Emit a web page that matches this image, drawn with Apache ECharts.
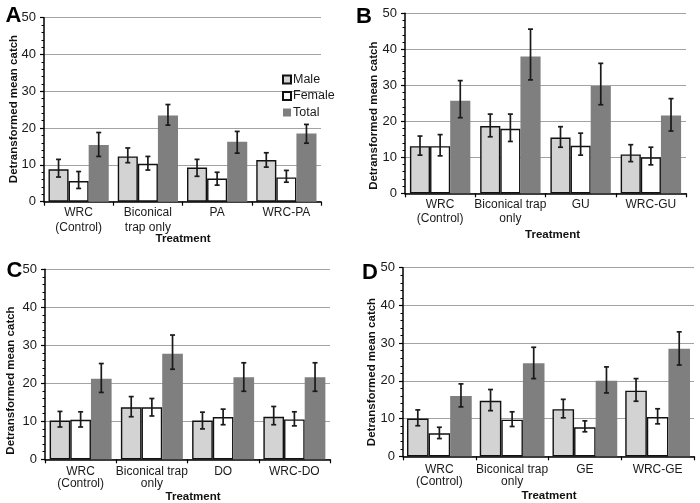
<!DOCTYPE html>
<html>
<head>
<meta charset="utf-8">
<script src="https://cdn.jsdelivr.net/npm/echarts@6/dist/echarts.min.js"></script>
<style>html,body{margin:0;padding:0;background:#fff}#c{width:700px;height:503px}</style>
</head>
<body>
<div id="c"></div>
<script>
// ---- categories ----
var catsA = ['WRC\n(Control)', 'Biconical\ntrap only', 'PA', 'WRC-PA'];
var catsB = ['WRC\n(Control)', 'Biconical trap\nonly', 'GU', 'WRC-GU'];
var catsC = ['WRC\n(Control)', 'Biconical trap\nonly', 'DO', 'WRC-DO'];
var catsD = ['WRC\n(Control)', 'Biconical trap\nonly', 'GE', 'WRC-GE'];
var yTicks = [0, 10, 20, 30, 40, 50];
var seriesNames = ['Male', 'Female', 'Total'];

// ---- Panel A ----
var aMale = [8.8, 12.3, 9.3, 11.3];
var aMaleLo = [6.7, 10.6, 6.9, 9.4];
var aMaleHi = [11.5, 14.6, 11.5, 13.3];
var aFemale = [5.6, 10.3, 6.3, 6.6];
var aFemaleLo = [3.6, 8.6, 4.5, 5.3];
var aFemaleHi = [8.2, 12.3, 8.0, 8.5];
var aTotal = [15.4, 23.4, 16.3, 18.5];
var aTotalLo = [12.3, 20.8, 13.2, 15.9];
var aTotalHi = [18.8, 26.4, 19.1, 21.0];

// ---- Panel B ----
var bMale = [13.1, 18.7, 15.5, 10.8];
var bMaleLo = [10.6, 15.7, 12.8, 8.8];
var bMaleHi = [15.9, 22.0, 18.5, 13.5];
var bFemale = [13.1, 17.9, 13.2, 10.0];
var bFemaleLo = [10.4, 14.4, 10.6, 7.9];
var bFemaleHi = [16.3, 22.0, 16.7, 12.8];
var bTotal = [25.7, 38.0, 29.8, 21.6];
var bTotalLo = [21.0, 31.5, 24.6, 17.3];
var bTotalHi = [31.3, 45.6, 36.1, 26.3];

// ---- Panel C ----
var cMale = [10.2, 13.7, 10.2, 11.2];
var cMaleLo = [8.5, 11.2, 8.0, 9.1];
var cMaleHi = [12.6, 16.5, 12.4, 13.9];
var cFemale = [10.4, 13.7, 11.1, 10.5];
var cFemaleLo = [8.5, 11.4, 9.1, 8.8];
var cFemaleHi = [12.5, 16.0, 13.2, 12.5];
var cTotal = [21.2, 27.8, 21.6, 21.6];
var cTotalLo = [17.6, 23.7, 17.9, 17.9];
var cTotalHi = [25.2, 32.7, 25.4, 25.4];

// ---- Panel D ----
var dMale = [10.0, 14.7, 12.5, 17.4];
var dMaleLo = [8.1, 12.1, 10.2, 14.6];
var dMaleHi = [12.3, 17.7, 15.1, 20.6];
var dFemale = [6.1, 9.7, 7.7, 10.4];
var dFemaleLo = [4.7, 7.9, 6.5, 8.6];
var dFemaleHi = [7.7, 11.8, 9.4, 12.6];
var dTotal = [16.0, 24.7, 20.0, 28.5];
var dTotalLo = [13.1, 20.6, 16.8, 24.2];
var dTotalHi = [19.2, 28.9, 23.7, 33.0];

var FONT = 'Liberation Sans, Arial, sans-serif';
var styles = [
  {color: '#d3d3d3', borderColor: '#111', borderWidth: 1.4},
  {color: '#ffffff', borderColor: '#111', borderWidth: 1.4},
  {color: '#7f7f7f', borderColor: '#7f7f7f', borderWidth: 0}
];

var panels = [
  {cats: catsA, vals: [aMale, aFemale, aTotal], lo: [aMaleLo, aFemaleLo, aTotalLo], hi: [aMaleHi, aFemaleHi, aTotalHi],
   grid: {left: 44, top: 17.7, width: 277, height: 184}, gap: 13, lh: 15, margin: 3},
  {cats: catsB, vals: [bMale, bFemale, bTotal], lo: [bMaleLo, bFemaleLo, bTotalLo], hi: [bMaleHi, bFemaleHi, bTotalHi],
   grid: {left: 405, top: 13.3, width: 281, height: 180}, gap: 14, lh: 14, margin: 4},
  {cats: catsC, vals: [cMale, cFemale, cTotal], lo: [cMaleLo, cFemaleLo, cTotalLo], hi: [cMaleHi, cFemaleHi, cTotalHi],
   grid: {left: 45, top: 269.3, width: 285, height: 190}, gap: 13, lh: 12.5, margin: 6},
  {cats: catsD, vals: [dMale, dFemale, dTotal], lo: [dMaleLo, dFemaleLo, dTotalLo], hi: [dMaleHi, dFemaleHi, dTotalHi],
   grid: {left: 403, top: 267.7, width: 291, height: 188.6}, gap: 11, lh: 12.5, margin: 7}
];

var grids = [], xAxes = [], yAxes = [], series = [];
panels.forEach(function (p, gi) {
  grids.push(p.grid);
  xAxes.push({
    type: 'category', gridIndex: gi, data: p.cats,
    axisLine: {lineStyle: {color: '#000', width: 1.5}},
    axisTick: {show: true, length: 4, lineStyle: {color: '#000', width: 1.2}},
    axisLabel: {color: '#1a1a1a', fontFamily: FONT, fontSize: 12, lineHeight: p.lh, margin: p.margin, interval: 0}
  });
  yAxes.push({
    type: 'value', gridIndex: gi, min: yTicks[0], max: yTicks[yTicks.length - 1], interval: yTicks[1] - yTicks[0],
    axisLine: {show: true, lineStyle: {color: '#000', width: 1.5}},
    axisTick: {show: true, length: 4, lineStyle: {color: '#000', width: 1.2}},
    minorTick: {show: true, splitNumber: 5, length: 2.5, lineStyle: {color: '#000', width: 1}},
    axisLabel: {color: '#1a1a1a', fontFamily: FONT, fontSize: 13, margin: 8},
    splitLine: {show: true, lineStyle: {color: '#a3a3a3', width: 1}}
  });
  for (var k = 0; k < 3; k++) {
    series.push({
      type: 'bar', name: seriesNames[k], xAxisIndex: gi, yAxisIndex: gi,
      data: p.vals[k], barGap: '0%', barCategoryGap: p.gap + '%',
      itemStyle: styles[k], emphasis: {disabled: true}, z: 2
    });
  }
  for (var k2 = 0; k2 < 3; k2++) {
    (function (k, gap) {
      var d = p.vals[k].map(function (v, i) { return [i, p.lo[k][i], p.hi[k][i]]; });
      series.push({
        type: 'custom', xAxisIndex: gi, yAxisIndex: gi, z: 5, silent: true,
        encode: {x: 0, y: [1, 2]}, data: d,
        renderItem: function (params, api) {
          var a = api.coord([api.value(0), api.value(1)]);
          var b = api.coord([api.value(0), api.value(2)]);
          var catW = api.size([1, 0])[0];
          var bw = catW * (1 - gap / 100) / 3;
          var x = a[0] + (k - 1) * bw;
          var cap = 2.5;
          var st = {stroke: '#1a1a1a', lineWidth: 1.7};
          return {type: 'group', children: [
            {type: 'line', shape: {x1: x, y1: a[1], x2: x, y2: b[1]}, style: st},
            {type: 'line', shape: {x1: x - cap, y1: a[1], x2: x + cap, y2: a[1]}, style: st},
            {type: 'line', shape: {x1: x - cap, y1: b[1], x2: x + cap, y2: b[1]}, style: st}
          ]};
        }
      });
    })(k2, p.gap);
  }
});

var ytitles = [
  {x: 13.5, y: 109}, {x: 373.5, y: 115.7}, {x: 10.5, y: 380.5}, {x: 372, y: 372}
];
var xtitles = [
  {x: 183, y: 239}, {x: 552.5, y: 235}, {x: 193, y: 497}, {x: 549, y: 495.7}
];
var letters = [
  {t: 'A', x: 13.5, y: 16}, {t: 'B', x: 364, y: 16.5}, {t: 'C', x: 14.5, y: 270.5}, {t: 'D', x: 370, y: 272.5}
];
var graphics = [];
ytitles.forEach(function (t) {
  graphics.push({type: 'text', x: t.x, y: t.y, rotation: Math.PI / 2, silent: true,
    style: {text: 'Detransformed mean catch', font: 'bold 11.5px ' + FONT, fill: '#111', textAlign: 'center', textVerticalAlign: 'middle'}});
});
xtitles.forEach(function (t) {
  graphics.push({type: 'text', x: t.x, y: t.y, silent: true,
    style: {text: 'Treatment', font: 'bold 11.5px ' + FONT, fill: '#111', textAlign: 'center', textVerticalAlign: 'middle'}});
});
letters.forEach(function (t) {
  graphics.push({type: 'text', x: t.x, y: t.y, silent: true,
    style: {text: t.t, font: 'bold 22px ' + FONT, fill: '#000', textAlign: 'center', textVerticalAlign: 'middle'}});
});

var chart = echarts.init(document.getElementById('c'), null, {renderer: 'canvas'});
chart.setOption({
  animation: false,
  backgroundColor: '#fff',
  grid: grids, xAxis: xAxes, yAxis: yAxes, series: series,
  legend: {
    data: seriesNames, orient: 'vertical', left: 282, top: 73, padding: 0, itemWidth: 8, itemHeight: 8, itemGap: 3.5,
    icon: 'rect', selectedMode: false,
    textStyle: {fontFamily: FONT, fontSize: 12.5, color: '#1a1a1a', padding: [0, 0, 0, -3]}
  },
  graphic: graphics
});
</script>
</body>
</html>
